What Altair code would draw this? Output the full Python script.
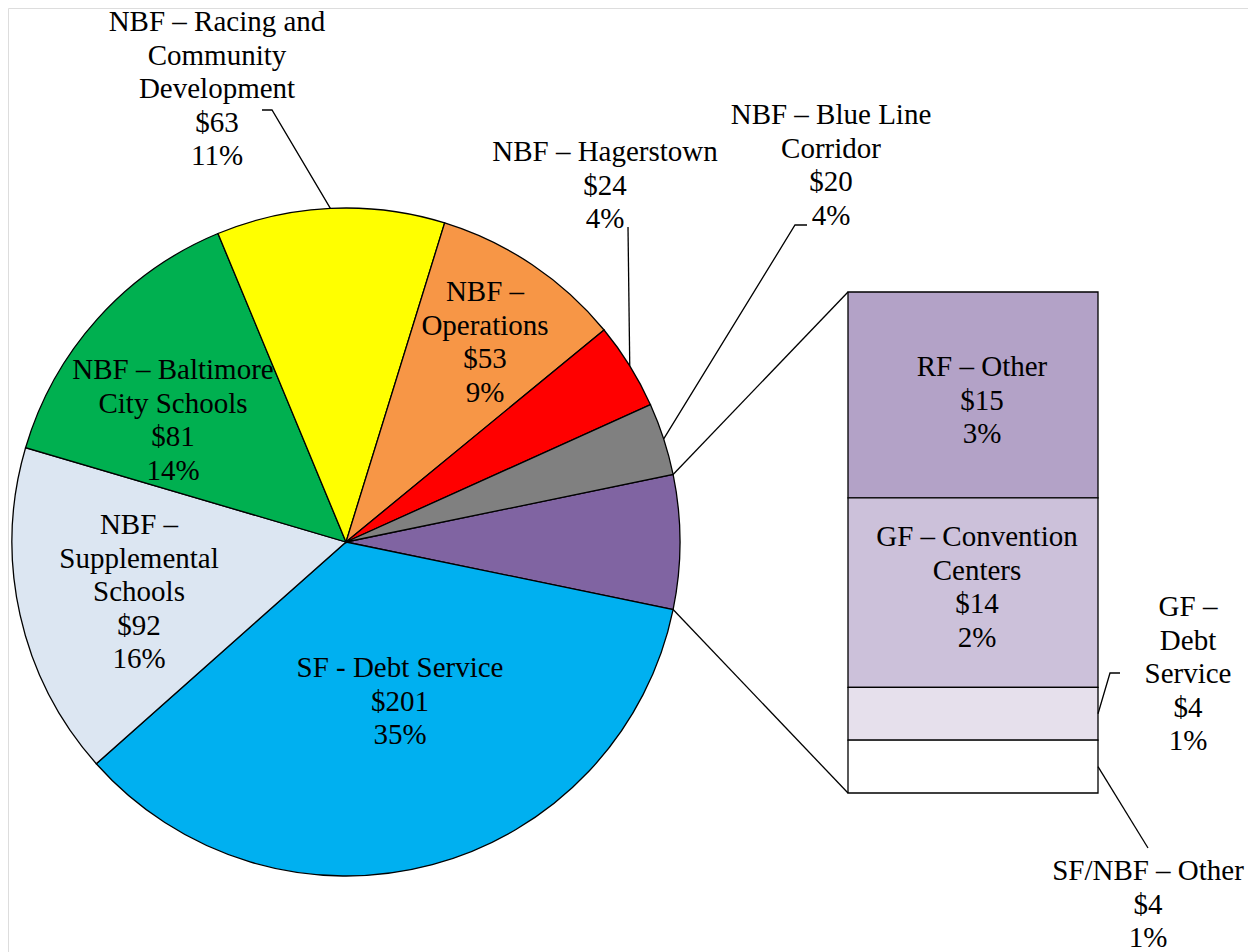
import math
import altair as alt
import pandas as pd

# ---------------- data ----------------
pie_labels = [
    "",  # combined "other" slice, broken out in the bar
    "SF - Debt Service",
    "NBF –\nSupplemental\nSchools",
    "NBF – Baltimore\nCity Schools",
    "NBF – Racing and\nCommunity\nDevelopment",
    "NBF –\nOperations",
    "NBF – Hagerstown",
    "NBF – Blue Line\nCorridor",
]
pie_values = [None, 201, 92, 81, 63, 53, 24, 20]

bar_labels = ["RF – Other", "GF – Convention\nCenters", "GF –\nDebt\nService", "SF/NBF – Other"]
bar_values = [15.2, 14.0, 3.9, 3.9]

# ---------------- styles ----------------
pie_colors = ["#8064A2", "#00B0F0", "#DCE6F2", "#00B050", "#FFFF00", "#F79646", "#FF0000", "#808080"]
bar_colors = ["#B3A2C7", "#CCC1DA", "#E6E0EC", "#FFFFFF"]
FONT = "Liberation Serif"
FS = 29
LH = 33.6

# ---------------- layout (pixels inside the chart) ----------------
W, H = 1240, 944
CX, CY, R = 338, 534, 334
BAR_L, BAR_R, BAR_T, BAR_B = 840, 1090, 284, 785

other_total = sum(bar_values)
vals = [other_total] + pie_values[1:]
total = sum(vals)
start = math.pi / 2 - math.pi * other_total / total

pie_df = pd.DataFrame({
    "seq": list(range(len(vals))),
    "value": vals,
    "color": pie_colors,
})

bcum = [0.0]
for v in bar_values:
    bcum.append(bcum[-1] + v)
bar_df = pd.DataFrame({
    "seq": list(range(len(bar_values))),
    "y0": bcum[:-1],
    "y1": bcum[1:],
    "color": bar_colors,
})


def pie_pt(frac):
    a = start + 2 * math.pi * frac
    return CX + R * math.sin(a), CY - R * math.cos(a)


cum = [0]
for v in vals:
    cum.append(cum[-1] + v)
mid_pts = [pie_pt((cum[i] + vals[i] / 2) / total) for i in range(len(vals))]

bar_mid_y = [BAR_T + (bcum[i] + bar_values[i] / 2) / other_total * (BAR_B - BAR_T)
             for i in range(len(bar_values))]


def money(v):
    return "$" + str(int(round(v)))


def pct(v):
    return str(int(round(v / total * 100))) + "%"


# label anchors: centre of each label's first line
pie_label_pos = [None, (392, 660), (131, 517), (165, 362), (209, 14), (477, 284), (597, 144), (823, 107)]
bar_label_pos = [(974, 359), (969, 529), (1180, 599), (1140, 863)]

lab_rows = []
for i in range(1, len(vals)):
    x, y = pie_label_pos[i]
    lab_rows.append({"lx": x, "ly": y,
                     "label": pie_labels[i] + "\n" + money(vals[i]) + "\n" + pct(vals[i])})
for i in range(len(bar_values)):
    x, y = bar_label_pos[i]
    lab_rows.append({"lx": x, "ly": y,
                     "label": bar_labels[i] + "\n" + money(bar_values[i]) + "\n" + pct(bar_values[i])})
lab_df = pd.DataFrame(lab_rows)

# leader / connector lines
lines = []


def add_line(lid, pts):
    for k, (x, y) in enumerate(pts):
        lines.append({"lid": lid, "seq": k, "lx": x, "ly": y})


add_line("racing", [mid_pts[4], (264, 102), (254, 102)])
add_line("hag", [mid_pts[6], (620, 219)])
add_line("blue", [mid_pts[7], (787, 217), (799, 217)])
add_line("gfdebt", [(BAR_R, bar_mid_y[2]), (1102, 665), (1112, 665)])
add_line("sfnbf", [(BAR_R, bar_mid_y[3]), (1140, 840)])
add_line("conn_top", [pie_pt(0), (BAR_L, BAR_T)])
add_line("conn_bot", [pie_pt(other_total / total), (BAR_L, BAR_B)])
line_df = pd.DataFrame(lines)

# ---------------- chart ----------------
pie = alt.Chart(pie_df).mark_arc(outerRadius=R, stroke="black", strokeWidth=1.3).encode(
    theta=alt.Theta("value:Q", stack=True,
                    scale=alt.Scale(range=[start, start + 2 * math.pi])),
    order=alt.Order("seq:Q"),
    color=alt.Color("color:N", scale=None),
    x=alt.value(CX),
    y=alt.value(CY),
)

bars = alt.Chart(bar_df).mark_rect(stroke="black", strokeWidth=1.3).encode(
    x=alt.value(BAR_L),
    x2=alt.value(BAR_R),
    y=alt.Y("y0:Q",
            scale=alt.Scale(domain=[0, other_total], range=[BAR_T, BAR_B], nice=False),
            axis=None),
    y2="y1:Q",
    color=alt.Color("color:N", scale=None),
)

leaders = alt.Chart(line_df).mark_line(color="black", strokeWidth=1.3).encode(
    x=alt.X("lx:Q", scale=None),
    y=alt.Y("ly:Q", scale=None),
    detail="lid:N",
    order="seq:Q",
)

labels = alt.Chart(lab_df).mark_text(
    font=FONT, fontSize=FS, lineHeight=LH, lineBreak="\n",
    align="center", baseline="middle", color="black",
).encode(
    x=alt.X("lx:Q", scale=None),
    y=alt.Y("ly:Q", scale=None),
    text="label:N",
)

chart = alt.layer(pie, bars, leaders, labels).resolve_scale(
    x="independent", y="independent", color="independent"
).properties(
    width=W, height=H, autosize=alt.AutoSizeParams(type="none"), padding=0,
).configure_view(strokeWidth=0, strokeOpacity=0).configure(background="white")

chart.save("out.html", embed_options={"renderer": "svg", "actions": False})
